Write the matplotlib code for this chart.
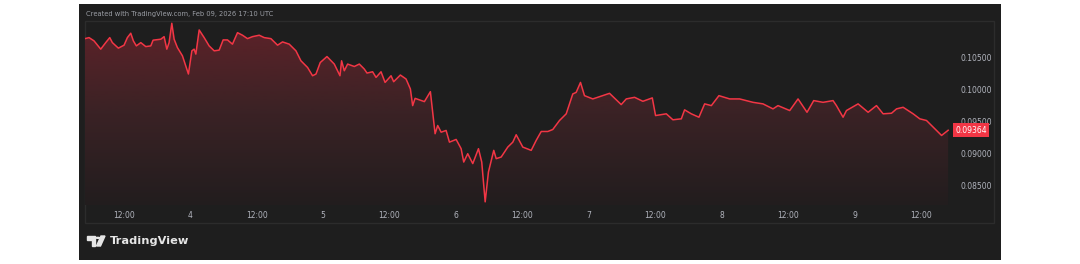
import matplotlib
matplotlib.use('Agg')
import matplotlib.pyplot as plt
import matplotlib.dates as mdates
import numpy as np
import pandas as pd
from matplotlib.patches import Rectangle, Polygon, Circle
from matplotlib.colors import LinearSegmentedColormap

# hours after Feb 03 2026 00:00 UTC, and price
hours = [5.02, 5.75, 6.65, 7.86, 8.76, 9.49, 9.96, 11.04, 12.07, 12.67,
         13.28, 13.75, 14.29, 15.09, 15.99, 16.90, 17.31, 18.70, 19.30, 19.79,
         20.20, 20.69, 21.11, 21.70, 22.61, 23.69, 24.31, 24.72, 25.03, 25.63,
         26.53, 27.43, 28.34, 29.24, 29.96, 30.74, 31.64, 32.55, 33.45, 34.35,
         35.26, 36.47, 37.37, 38.58, 39.78, 40.68, 41.89, 43.10, 44.00, 45.20,
         46.10, 46.72, 47.49, 48.70, 50.02, 51.05, 51.34, 51.83, 52.43, 53.64,
         54.54, 55.44, 55.93, 56.94, 57.56, 58.46, 59.19, 60.27, 60.74, 61.95,
         62.98, 63.76, 64.17, 64.61, 66.29, 67.37, 68.22, 68.69, 69.31, 70.21,
         70.81, 72.02, 72.92, 73.39, 74.11, 75.02, 76.05, 76.64, 77.26, 77.85,
         78.81, 79.25, 80.15, 81.34, 82.25, 82.86, 84.05, 85.57, 86.47, 87.38,
         88.57, 89.47, 90.68, 91.89, 93.08, 93.69, 94.47, 95.19, 96.69, 99.71,
         101.82, 102.73, 104.23, 105.73, 107.43, 108.02, 109.96, 111.15, 112.67, 113.26,
         114.47, 115.85, 116.88, 118.09, 119.46, 121.40, 123.20, 125.61, 127.41, 129.22,
         130.12, 132.24, 133.74, 135.36, 136.57, 138.25, 140.06, 140.67, 141.87, 142.48,
         144.58, 146.39, 147.90, 149.10, 150.61, 151.52, 152.71, 154.52, 155.72, 156.93,
         157.84, 159.65, 160.84]
prices = [0.10791, 0.10807, 0.10756, 0.10627, 0.10729, 0.10807, 0.10729, 0.10643, 0.10689, 0.10807,
          0.10875, 0.10756, 0.10678, 0.10729, 0.10667, 0.10678, 0.10767, 0.10782, 0.10822, 0.10627,
          0.10729, 0.11030, 0.10782, 0.10652, 0.10523, 0.10240, 0.10601, 0.10627, 0.10550, 0.10926,
          0.10807, 0.10678, 0.10601, 0.10612, 0.10771, 0.10771, 0.10705, 0.10884, 0.10844, 0.10791,
          0.10822, 0.10844, 0.10807, 0.10791, 0.10689, 0.10740, 0.10705, 0.10601, 0.10446, 0.10342,
          0.10213, 0.10240, 0.10419, 0.10512, 0.10395, 0.10213, 0.10446, 0.10291, 0.10395, 0.10357,
          0.10395, 0.10317, 0.10255, 0.10275, 0.10187, 0.10275, 0.10109, 0.10213, 0.10120, 0.10224,
          0.10162, 0.10007, 0.09748, 0.09861, 0.09810, 0.09965, 0.09310, 0.09438, 0.09334, 0.09361,
          0.09179, 0.09221, 0.09077, 0.08869, 0.08999, 0.08845, 0.09077, 0.08869, 0.08249, 0.08714,
          0.09051, 0.08922, 0.08947, 0.09102, 0.09179, 0.09294, 0.09102, 0.09051, 0.09206, 0.09345,
          0.09345, 0.09376, 0.09516, 0.09620, 0.09930, 0.09954, 0.10109, 0.09903, 0.09852, 0.09939,
          0.09764, 0.09852, 0.09877, 0.09815, 0.09868, 0.09593, 0.09620, 0.09527, 0.09542, 0.09682,
          0.09620, 0.09567, 0.09775, 0.09748, 0.09903, 0.09852, 0.09852, 0.09799, 0.09775, 0.09697,
          0.09748, 0.09671, 0.09852, 0.09644, 0.09826, 0.09799, 0.09826, 0.09748, 0.09567, 0.09671,
          0.09775, 0.09644, 0.09748, 0.09620, 0.09629, 0.09697, 0.09722, 0.09620, 0.09542, 0.09516,
          0.09438, 0.09283, 0.09364]

tick_hours = [12, 24, 36, 48, 60, 72, 84, 96, 108, 120, 132, 144, 156]
tick_labels = ['12:00', '4', '12:00', '5', '12:00', '6', '12:00', '7',
               '12:00', '8', '12:00', '9', '12:00']
price_ticks = [0.085, 0.090, 0.095, 0.100, 0.105]
last_price = 0.09364
header = 'Created with TradingView.com, Feb 09, 2026 17:10 UTC'

BG = '#1e1e1e'
FRAME = '#2c2c2c'
RED = '#f23645'
TXT = '#b2b5be'

W, H = 1080, 264


def fx(px):
    return px / W


def fy(py):
    return 1 - py / H


fig = plt.figure(figsize=(10.8, 2.64), dpi=100)
fig.patch.set_facecolor('white')

fig.patches.append(Rectangle((fx(79), fy(260)), fx(1001) - fx(79), fy(4) - fy(260),
                             transform=fig.transFigure, facecolor=BG, edgecolor='none', zorder=-10))
fig.patches.append(Rectangle((fx(85), fy(223)), fx(994) - fx(85), fy(21) - fy(223),
                             transform=fig.transFigure, facecolor='none', edgecolor=FRAME,
                             lw=1.0, zorder=-5))

ax = fig.add_axes([fx(85), fy(205), fx(950) - fx(85), fy(22) - fy(205)])
ax.set_zorder(5)
ax.set_facecolor('none')
for s in ax.spines.values():
    s.set_visible(False)

start = pd.Timestamp('2026-02-03')
times = start + pd.to_timedelta(hours, unit='h')
xs = mdates.date2num(times)
ylo, yhi = 0.0820, 0.1105

# area under the line with a vertical gradient
poly = ax.fill_between(xs, prices, ylo, color='none', lw=0)
grad = np.linspace(0, 1, 256).reshape(-1, 1)
cmap = LinearSegmentedColormap.from_list('tvgrad', ['#221d1e', '#3a2225', '#5e2229'])
im = ax.imshow(grad, aspect='auto', cmap=cmap, origin='lower',
               extent=[xs[0], xs[-1], ylo, max(prices)], zorder=1)
im.set_clip_path(poly.get_paths()[0], transform=ax.transData)
ax.plot(xs, prices, color=RED, lw=1.1, zorder=3)

ax.set_xlim(xs[0], mdates.date2num(times[-1] + pd.Timedelta(minutes=20)))
ax.set_ylim(ylo, yhi)

tick_times = start + pd.to_timedelta(tick_hours, unit='h')
ax.set_xticks(mdates.date2num(tick_times))
ax.set_xticklabels(tick_labels)
ax.yaxis.tick_right()
ax.set_yticks(price_ticks)
ax.set_yticklabels(['%.5f' % p for p in price_ticks])
ax.tick_params(axis='x', length=0, pad=4.5, labelsize=5.5, labelcolor=TXT)
ax.tick_params(axis='y', length=0, pad=7.5, labelsize=5.5, labelcolor=TXT)

ax.annotate('%.5f' % last_price, xy=(1.0, last_price), xycoords=('axes fraction', 'data'),
            xytext=(4.0, 0), textcoords='offset points', va='center', ha='left',
            fontsize=5.5, color='white',
            bbox=dict(boxstyle='square,pad=0.3', fc=RED, ec='none'))

fig.text(fx(86), fy(14), header, fontsize=4.9, color='#9a9da4', va='center', ha='left')

# logo
fig.patches.append(Polygon([(fx(87), fy(236)), (fx(95), fy(236)), (fx(95), fy(246)),
                            (fx(91.5), fy(246)), (fx(91.5), fy(239.5)), (fx(87), fy(239.5))],
                           closed=True, transform=fig.transFigure, color='#e6e6e6', zorder=2))
fig.patches.append(Circle((fx(97.8), fy(237.8)), 1.8 / W, transform=fig.transFigure,
                          color='#e6e6e6', zorder=2))
fig.patches.append(Polygon([(fx(101), fy(236)), (fx(105), fy(236)), (fx(100.5), fy(246)),
                            (fx(96.5), fy(246))],
                           closed=True, transform=fig.transFigure, color='#e6e6e6', zorder=2))
fig.text(fx(110), fy(241.5), 'TradingView', fontsize=8.2, fontweight='bold',
         color='#e6e6e6', va='center', ha='left')

fig.savefig('out.png', dpi=100, facecolor=fig.get_facecolor())
